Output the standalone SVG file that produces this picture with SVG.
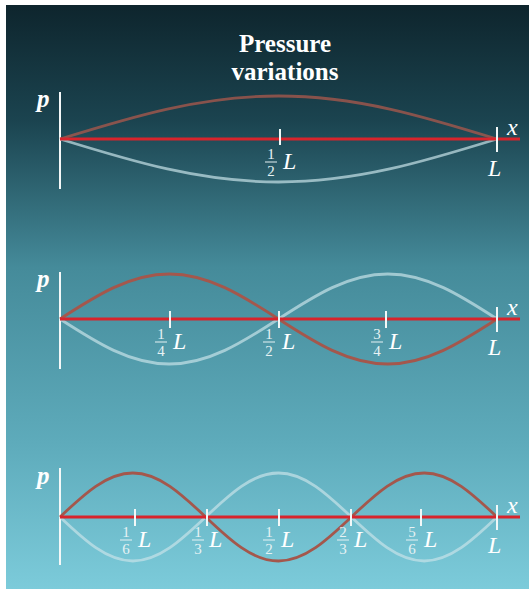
<svg xmlns="http://www.w3.org/2000/svg" width="529" height="589" viewBox="0 0 529 589">
<defs>
<linearGradient id="bg" x1="0" y1="0" x2="0" y2="1">
<stop offset="0" stop-color="#0e252d"/>
<stop offset="0.2" stop-color="#1b4450"/>
<stop offset="0.45" stop-color="#458b9a"/>
<stop offset="0.75" stop-color="#5eabbb"/>
<stop offset="1" stop-color="#7ccbda"/>
</linearGradient>
<style>
.t{font-family:"Liberation Serif","Times New Roman",serif;fill:#fff}
.title{font-size:25px;font-weight:bold;text-anchor:middle}
.var{font-style:italic;font-size:24px}
.p{font-style:italic;font-weight:bold;font-size:25px}
.fr{font-size:15px;text-anchor:middle;fill:#e6f2f4}
.axis{stroke:#d8242c;stroke-width:3;fill:none}
.red{stroke:#a4574c;stroke-width:2.8;fill:none}
.light{stroke:#c8e2e8;stroke-opacity:0.7;stroke-width:2.8;fill:none}
.tick{stroke:#f2f8f8;stroke-width:2}
.pax{stroke:#f4f8f8;stroke-width:2}
.bar{stroke:#e6f2f4;stroke-width:1}
</style>
</defs>
<rect x="0" y="0" width="529" height="589" fill="#ffffff"/>
<rect x="6" y="5" width="523" height="584" fill="url(#bg)"/>
<g id="title">
<text class="t title" x="285" y="52">Pressure</text>
<text class="t title" x="285" y="80">variations</text>
</g>

<g id="panel1">
<line class="pax" x1="60" y1="92" x2="60" y2="189"/>
<text class="t p" x="37" y="107">p</text>
<path class="light" stroke-width="2.5" d="M60,139 C133.04,161.58 200.25,182 278.5,182 C356.74,182 423.96,161.58 497,139"/>
<path class="red" stroke-width="2.5" stroke-opacity="0.8" d="M60,139 C133.04,116.42 200.25,96 278.5,96 C356.74,96 423.96,116.42 497,139"/>
<line class="axis" x1="60" y1="139" x2="520" y2="139"/>
<line class="tick" x1="280" y1="129" x2="280" y2="145"/>
<line class="tick" x1="497" y1="127" x2="497" y2="152"/>
<text class="t fr" x="271" y="159">1</text><line class="bar" x1="265" y1="162" x2="277" y2="162"/><text class="t fr" x="271" y="176">2</text>
<text class="t var" x="283" y="169">L</text>
<text class="t var" x="488" y="176">L</text>
<text class="t var" x="507" y="135">x</text>
</g>

<g id="panel2">
<line class="pax" x1="60" y1="272" x2="60" y2="369"/>
<text class="t p" x="37" y="287">p</text>
<path class="light" d="M60,319 C96.52,342.63 130.13,364 169.25,364 C208.37,364 241.98,342.63 278.5,319 C315.02,295.37 348.63,274 387.75,274 C426.87,274 460.48,295.37 497,319"/>
<path class="red" d="M60,319 C96.52,295.37 130.13,274 169.25,274 C208.37,274 241.98,295.37 278.5,319 C315.02,342.63 348.63,364 387.75,364 C426.87,364 460.48,342.63 497,319"/>
<line class="axis" x1="60" y1="319" x2="520" y2="319"/>
<line class="tick" x1="170" y1="311" x2="170" y2="328"/>
<line class="tick" x1="279" y1="311" x2="279" y2="328"/>
<line class="tick" x1="386" y1="311" x2="386" y2="328"/>
<line class="tick" x1="497" y1="307" x2="497" y2="332"/>
<text class="t fr" x="161" y="339">1</text><line class="bar" x1="155" y1="342" x2="167" y2="342"/><text class="t fr" x="161" y="356">4</text>
<text class="t var" x="173" y="349">L</text>
<text class="t fr" x="269" y="339">1</text><line class="bar" x1="263" y1="342" x2="275" y2="342"/><text class="t fr" x="269" y="356">2</text>
<text class="t var" x="282" y="349">L</text>
<text class="t fr" x="377" y="339">3</text><line class="bar" x1="371" y1="342" x2="383" y2="342"/><text class="t fr" x="377" y="356">4</text>
<text class="t var" x="389" y="349">L</text>
<text class="t var" x="488" y="355">L</text>
<text class="t var" x="507" y="315">x</text>
</g>

<g id="panel3">
<line class="pax" x1="60" y1="468" x2="60" y2="565"/>
<text class="t p" x="37" y="484">p</text>
<path class="light" d="M60,517 C84.35,540.1 106.75,561 132.83,561 C158.91,561 181.31,540.1 205.67,517 C230.02,493.9 252.42,473 278.5,473 C304.58,473 326.98,493.9 351.33,517 C375.68,540.1 398.08,561 424.17,561 C450.25,561 472.65,540.1 497,517"/>
<path class="red" d="M60,517 C84.35,493.9 106.75,473 132.83,473 C158.91,473 181.31,493.9 205.67,517 C230.02,540.1 252.42,561 278.5,561 C304.58,561 326.98,540.1 351.33,517 C375.68,493.9 398.08,473 424.17,473 C450.25,473 472.65,493.9 497,517"/>
<line class="axis" x1="60" y1="517" x2="520" y2="517"/>
<line class="tick" x1="135" y1="509" x2="135" y2="526"/>
<line class="tick" x1="207" y1="509" x2="207" y2="526"/>
<line class="tick" x1="279" y1="509" x2="279" y2="526"/>
<line class="tick" x1="351" y1="509" x2="351" y2="526"/>
<line class="tick" x1="421" y1="509" x2="421" y2="526"/>
<line class="tick" x1="497" y1="505" x2="497" y2="530"/>
<text class="t fr" x="126" y="537">1</text><line class="bar" x1="120" y1="540" x2="132" y2="540"/><text class="t fr" x="126" y="554">6</text>
<text class="t var" x="138" y="547">L</text>
<text class="t fr" x="198" y="537">1</text><line class="bar" x1="192" y1="540" x2="204" y2="540"/><text class="t fr" x="198" y="554">3</text>
<text class="t var" x="209" y="547">L</text>
<text class="t fr" x="269" y="537">1</text><line class="bar" x1="263" y1="540" x2="275" y2="540"/><text class="t fr" x="269" y="554">2</text>
<text class="t var" x="281" y="547">L</text>
<text class="t fr" x="343" y="537">2</text><line class="bar" x1="337" y1="540" x2="349" y2="540"/><text class="t fr" x="343" y="554">3</text>
<text class="t var" x="354" y="547">L</text>
<text class="t fr" x="412" y="537">5</text><line class="bar" x1="406" y1="540" x2="418" y2="540"/><text class="t fr" x="412" y="554">6</text>
<text class="t var" x="424" y="547">L</text>
<text class="t var" x="488" y="553">L</text>
<text class="t var" x="507" y="513">x</text>
</g>
</svg>
